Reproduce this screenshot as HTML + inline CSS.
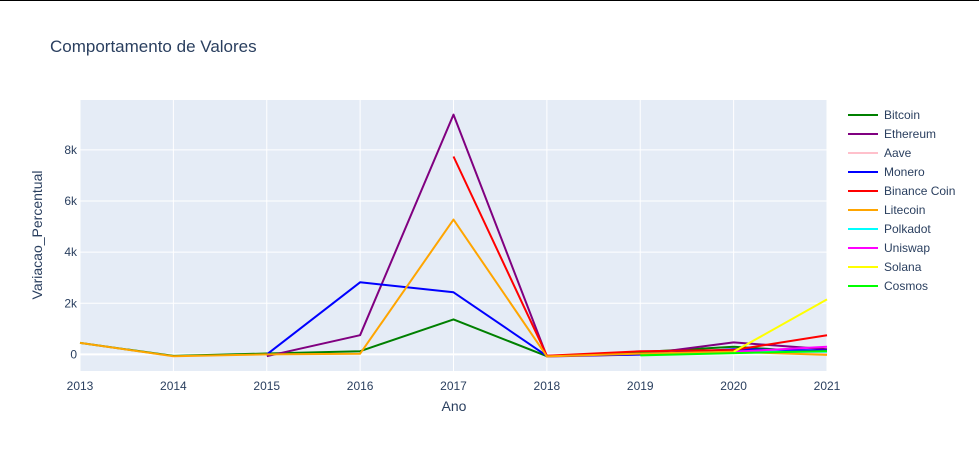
<!DOCTYPE html>
<html><head><meta charset="utf-8"><style>
body{margin:0;background:#fff;font-family:"Liberation Sans",Arial,sans-serif}
svg text{font-family:"Liberation Sans",Arial,sans-serif;fill:#2a3f5f}
</style></head><body>
<svg id="chart" width="979" height="451" xmlns="http://www.w3.org/2000/svg">
<rect width="979" height="451" fill="#fff"/>
<line x1="0" y1="0.5" x2="979" y2="0.5" stroke="#000" stroke-width="1"/>
<text x="50" y="52" font-size="17">Comportamento de Valores</text>
<rect x="80" y="100" width="747" height="271" fill="#e5ecf6"/>
<g id="grid"></g><g id="series"></g><g id="legend"></g>
<text x="454" y="411" font-size="14" text-anchor="middle">Ano</text>
<text x="42" y="235" font-size="14" text-anchor="middle" transform="rotate(-90 42 235)">Variacao_Percentual</text>
</svg>
<script>
const years=[2013,2014,2015,2016,2017,2018,2019,2020,2021];
const yTicks=[0,2000,4000,6000,8000];
const yTickLabels=["0","2k","4k","6k","8k"];
const names=["Bitcoin","Ethereum","Aave","Monero","Binance Coin","Litecoin","Polkadot","Uniswap","Solana","Cosmos"];
const colors=["green","purple","pink","blue","red","orange","cyan","magenta","yellow","lime"];
const bitcoin=[450,-60,35,125,1370,-73,90,300,60];
const ethereum=[null,null,-70,750,9380,-82,-3,470,200];
const aave=[null,null,null,null,null,null,null,80,50];
const monero=[null,null,0,2820,2430,-60,-10,200,150];
const binance=[null,null,null,null,7740,-50,120,170,750];
const litecoin=[450,-75,0,25,5270,-80,30,100,-20];
const polkadot=[null,null,null,null,null,null,null,100,100];
const uniswap=[null,null,null,null,null,null,null,100,300];
const solana=[null,null,null,null,null,null,null,100,2150];
const cosmos=[null,null,null,null,null,null,-40,50,130];
const seriesValues=[bitcoin,ethereum,aave,monero,binance,litecoin,polkadot,uniswap,solana,cosmos];
const X0=80,X1=827,Y0=100,Y1=371,ymin=-650,ymax=9950;
const xs=y=>X0+(y-years[0])/(years[years.length-1]-years[0])*(X1-X0);
const ys=v=>Y1-(v-ymin)/(ymax-ymin)*(Y1-Y0);
const NS="http://www.w3.org/2000/svg";
function mk(t,a,p){const e=document.createElementNS(NS,t);for(const k in a)e.setAttribute(k,a[k]);p.appendChild(e);return e;}
const grid=document.getElementById('grid');
years.forEach(y=>{
 const l=mk('line',{x1:xs(y),x2:xs(y),y1:Y0,y2:Y1,stroke:'#fff','stroke-width':1},grid);
 
 
 const t=mk('text',{x:xs(y),y:390,'font-size':12,'text-anchor':'middle'},grid);t.textContent=y;
 
 
});
yTicks.forEach((v,i)=>{
 const l=mk('line',{x1:X0,x2:X1,y1:ys(v),y2:ys(v),stroke:'#fff','stroke-width':v===0?2:1},grid);
 
 
 const t=mk('text',{x:77,y:ys(v)+4,'font-size':12,'text-anchor':'end'},grid);t.textContent=yTickLabels[i];
 
 
});
const sg=document.getElementById('series'),lg=document.getElementById('legend');
seriesValues.forEach((vals,i)=>{
 let d='';vals.forEach((v,j)=>{if(v===null)return;d+=(d?'L':'M')+xs(years[j]).toFixed(1)+','+ys(v).toFixed(1);});
 const p=mk('path',{d:d,fill:'none',stroke:colors[i],'stroke-width':2,'stroke-linejoin':'round'},sg);
 
 
 const yy=115+i*19;
 const g=mk('g',{},lg);
 
 
 mk('line',{x1:848,x2:878,y1:yy,y2:yy,stroke:colors[i],'stroke-width':2},g);
 const t=mk('text',{x:884,y:yy+4,'font-size':12},g);t.textContent=names[i];
});
</script>
</body></html>
